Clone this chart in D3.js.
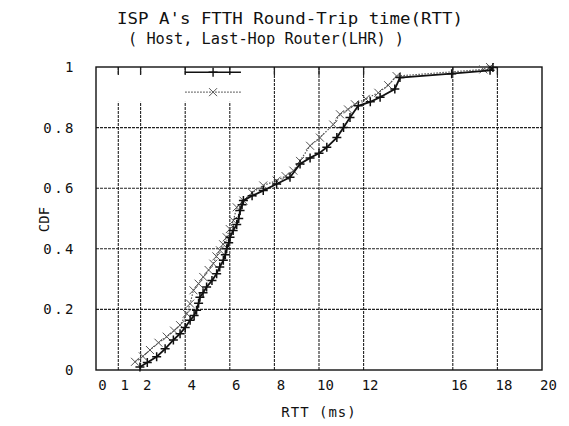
<!DOCTYPE html>
<html>
<head>
<meta charset="utf-8">
<script src="https://cdn.jsdelivr.net/npm/d3@7"></script>
<style>
  body { margin: 0; background: #fff; }
  text { font-family: "DejaVu Sans Mono", monospace; fill: #111; }
</style>
</head>
<body>
<svg id="chart" width="569" height="426"></svg>
<script>
// host RTT (ms) and CDF, solid line with + marks
var hostRtt = [1.97, 2.3, 2.72, 3.1, 3.47, 3.77, 4.0, 4.22, 4.4, 4.51, 4.6, 4.66, 4.8, 4.96, 5.2, 5.41,
  5.55, 5.71, 5.8, 5.86, 5.95, 6.01, 6.15, 6.31, 6.4, 6.46, 6.55, 6.61, 7.0, 7.5, 8.1, 8.7,
  9.15, 9.6, 10.0, 10.35, 10.8, 11.1, 11.39, 11.76, 12.3, 12.74, 13.4, 13.63, 15.95, 17.67, 17.8];
var hostCdf = [0.01, 0.025, 0.044, 0.07, 0.099, 0.12, 0.14, 0.164, 0.18, 0.197, 0.22, 0.24, 0.255, 0.274, 0.295, 0.318,
  0.34, 0.362, 0.38, 0.40, 0.42, 0.438, 0.46, 0.48, 0.50, 0.526, 0.545, 0.559, 0.575, 0.592, 0.614, 0.636,
  0.68, 0.70, 0.715, 0.735, 0.767, 0.80, 0.833, 0.872, 0.885, 0.90, 0.927, 0.965, 0.978, 0.989, 0.998];

// last-hop router RTT (ms) and CDF, dotted line with x marks
var lhrRtt = [1.75, 2.1, 2.42, 2.8, 3.17, 3.5, 3.77, 4.07, 4.22, 4.37, 4.6, 4.81, 5.05, 5.26, 5.4, 5.56,
  5.7, 5.86, 6.0, 6.16, 6.31, 6.61, 7.0, 7.5, 8.1, 8.5, 8.85, 9.15, 9.6, 10.04, 10.64, 10.94,
  11.3, 11.61, 12.1, 12.66, 13.1, 13.48, 17.37, 17.67];
var lhrCdf = [0.027, 0.045, 0.066, 0.09, 0.11, 0.13, 0.148, 0.186, 0.219, 0.263, 0.285, 0.307, 0.33, 0.351, 0.375, 0.395,
  0.415, 0.438, 0.465, 0.493, 0.537, 0.559, 0.585, 0.609, 0.625, 0.64, 0.658, 0.69, 0.74, 0.767, 0.81, 0.844,
  0.86, 0.877, 0.895, 0.915, 0.94, 0.97, 0.992, 1.0];

var xTicks = [0, 1, 2, 4, 6, 8, 10, 12, 16, 18, 20];
var yTicks = [0, 0.2, 0.4, 0.6, 0.8, 1];

var titleLines = ["ISP A's FTTH Round-Trip time(RTT)", "( Host, Last-Hop Router(LHR) )"];

var margin = {left: 96, right: 27, top: 67, bottom: 56};
var W = 569, H = 426;

var svg = d3.select("#chart");

var x = d3.scaleLinear().domain([0, 20]).range([margin.left, W - margin.right]);
var y = d3.scaleLinear().domain([0, 1]).range([H - margin.bottom, margin.top]);

var host = hostRtt.map(function(d, i) { return [d, hostCdf[i]]; });
var lhr = lhrRtt.map(function(d, i) { return [d, lhrCdf[i]]; });

// grid
svg.append("g").selectAll("line")
  .data(xTicks.slice(1, -1))
  .enter().append("line")
  .attr("x1", function(d) { return x(d); })
  .attr("x2", function(d) { return x(d); })
  .attr("y1", y(0))
  .attr("y2", y(1))
  .attr("stroke", "#222")
  .attr("stroke-width", 1.1)
  .attr("stroke-dasharray", "3,1");

svg.append("g").selectAll("line")
  .data(yTicks.slice(1, -1))
  .enter().append("line")
  .attr("x1", x(0))
  .attr("x2", x(20))
  .attr("y1", function(d) { return y(d); })
  .attr("y2", function(d) { return y(d); })
  .attr("stroke", "#222")
  .attr("stroke-width", 1.1)
  .attr("stroke-dasharray", "3,1");

// key box clears the grid under it
svg.append("rect")
  .attr("x", x(0) + 1)
  .attr("y", y(1) + 8)
  .attr("width", x(7) - x(0))
  .attr("height", y(0.885) - y(1) - 8)
  .attr("fill", "#fff");

// mirror ticks on the top border
svg.append("g").selectAll("line")
  .data(xTicks.slice(1, -1))
  .enter().append("line")
  .attr("x1", function(d) { return x(d); })
  .attr("x2", function(d) { return x(d); })
  .attr("y1", y(1))
  .attr("y2", y(1) + 8)
  .attr("stroke", "#222")
  .attr("stroke-width", 1.3);

// frame
svg.append("rect")
  .attr("x", x(0)).attr("y", y(1))
  .attr("width", x(20) - x(0)).attr("height", y(0) - y(1))
  .attr("fill", "none").attr("stroke", "#111").attr("stroke-width", 1.4);

// axes labels
var xAxis = d3.axisBottom(x).tickValues(xTicks).tickSize(0).tickPadding(10)
  .tickFormat(d3.format("d"));
var gx = svg.append("g").attr("transform", "translate(0," + y(0) + ")").call(xAxis);
gx.select(".domain").remove();
gx.selectAll("text").attr("dx", 6).style("font-size", "14px")
  .style("font-family", "'DejaVu Sans Mono', monospace");

var yAxis = d3.axisLeft(y).tickValues(yTicks).tickSize(0).tickPadding(20)
  .tickFormat(function(d) { return d === 0 || d === 1 ? d3.format("d")(d) : d3.format(".1f")(d); });
var gy = svg.append("g").attr("transform", "translate(" + x(0) + ",0)").call(yAxis);
gy.select(".domain").remove();
gy.selectAll("text").style("font-size", "14px")
  .style("letter-spacing", "2.5px")
  .style("font-family", "'DejaVu Sans Mono', monospace");

svg.append("text")
  .attr("x", (x(0) + x(20)) / 2)
  .attr("y", 417)
  .attr("text-anchor", "middle")
  .style("font-size", "14px")
  .style("letter-spacing", "1px")
  .text("RTT (ms)");

svg.append("text")
  .attr("transform", "translate(49," + (y(0.5) + 1) + ") rotate(-90)")
  .attr("text-anchor", "middle")
  .style("font-size", "14px")
  .text("CDF");

// title
svg.append("text")
  .attr("x", 117).attr("y", 24)
  .attr("textLength", 346).attr("lengthAdjust", "spacingAndGlyphs")
  .style("font-size", "16px")
  .text(titleLines[0]);
svg.append("text")
  .attr("x", 128).attr("y", 44)
  .attr("textLength", 276).attr("lengthAdjust", "spacingAndGlyphs")
  .style("font-size", "16px")
  .text(titleLines[1]);

var line = d3.line()
  .x(function(d) { return x(d[0]); })
  .y(function(d) { return y(d[1]); });

function plusPath(cx, cy) {
  return "M" + (cx - 4.5) + "," + cy + "H" + (cx + 4.5) + "M" + cx + "," + (cy - 4.5) + "V" + (cy + 4.5);
}
function crossPath(cx, cy) {
  return "M" + (cx - 4) + "," + (cy - 4) + "L" + (cx + 4) + "," + (cy + 4) +
    "M" + (cx - 4) + "," + (cy + 4) + "L" + (cx + 4) + "," + (cy - 4);
}

// LHR series (dotted, x)
svg.append("path").datum(lhr)
  .attr("d", line)
  .attr("fill", "none")
  .attr("stroke", "#555")
  .attr("stroke-width", 1.2)
  .attr("stroke-dasharray", "1.5,1.5");
svg.append("g").selectAll("path")
  .data(lhr)
  .enter().append("path")
  .attr("d", function(d) { return crossPath(x(d[0]), y(d[1])); })
  .attr("stroke", "#555")
  .attr("stroke-width", 1)
  .attr("fill", "none");

// host series (solid, +)
svg.append("path").datum(host)
  .attr("d", line)
  .attr("fill", "none")
  .attr("stroke", "#111")
  .attr("stroke-width", 1.8);
svg.append("g").selectAll("path")
  .data(host)
  .enter().append("path")
  .attr("d", function(d) { return plusPath(x(d[0]), y(d[1])); })
  .attr("stroke", "#111")
  .attr("stroke-width", 1.5)
  .attr("fill", "none");

// key samples, no labels
var keyX = [4, 6.5];
var keyY = [0.983, 0.917];
svg.append("line")
  .attr("x1", x(keyX[0])).attr("x2", x(keyX[1]))
  .attr("y1", y(keyY[0])).attr("y2", y(keyY[0]))
  .attr("stroke", "#111").attr("stroke-width", 1.5);
svg.append("path")
  .attr("d", plusPath((x(keyX[0]) + x(keyX[1])) / 2, y(keyY[0])))
  .attr("stroke", "#111").attr("stroke-width", 1.4);
svg.append("line")
  .attr("x1", x(keyX[0])).attr("x2", x(keyX[1]))
  .attr("y1", y(keyY[1])).attr("y2", y(keyY[1]))
  .attr("stroke", "#555").attr("stroke-width", 1.1).attr("stroke-dasharray", "1.5,1.5");
svg.append("path")
  .attr("d", crossPath((x(keyX[0]) + x(keyX[1])) / 2, y(keyY[1])))
  .attr("stroke", "#555").attr("stroke-width", 1);
</script>
</body>
</html>
